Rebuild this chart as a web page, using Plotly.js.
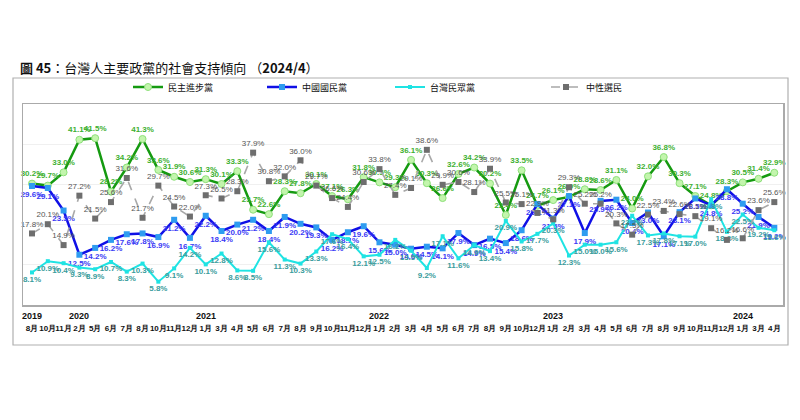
<!DOCTYPE html>
<html>
<head>
<meta charset="utf-8">
<script src="https://cdn.plot.ly/plotly-3.0.1.min.js"></script>
<style>
html,body{margin:0;padding:0;background:#fff;}
#chart{width:800px;height:420px;}
</style>
</head>
<body>
<div id="chart"></div>
<script>
// Month tick labels (48 survey points, 2019/8 – 2024/4)
const months = ["8月","10月","11月","2月","5月","6月","7月","8月","10月","11月","12月",
  "1月","3月","4月","5月","6月","7月","8月","9月","10月","11月","12月",
  "1月","2月","3月","4月","5月","6月","7月","8月","9月","10月","12月",
  "1月","2月","3月","4月","5月","6月","7月","8月","9月","10月","11月","12月",
  "1月","3月","4月"];
// Year labels and the index of the point they sit above
const years = ["2019","2020","2021","2022","2023","2024"];
const yearIdx = [0,3,11,22,33,45];

const dpp = [30.2,29.7,33.0,41.1,41.5,28.2,34.2,41.3,33.6,31.9,30.6,
  31.3,30.1,33.3,23.7,22.6,28.3,27.8,30.1,27.1,26.3,31.8,
  30.5,29.3,36.1,30.3,26.6,32.6,34.2,30.2,22.4,33.5,24.7,
  26.1,26.9,28.8,28.6,31.1,24.0,32.0,36.8,30.3,27.1,24.8,28.3,
  30.5,31.4,32.9];
const kmt = [29.6,29.1,23.5,12.5,14.2,16.2,17.6,17.8,16.9,21.2,16.7,
  22.2,18.4,20.0,21.2,18.4,21.9,20.2,19.3,16.2,18.1,19.6,
  15.6,15.0,14.0,14.5,14.1,17.9,14.9,16.5,15.4,18.6,25.1,
  21.5,27.1,17.9,25.9,26.2,20.4,23.0,17.1,23.1,26.5,24.8,28.8,
  25.2,21.9,19.2];
const tpp = [8.1,10.9,10.4,9.3,8.9,10.7,8.3,10.3,5.8,9.1,14.2,
  10.1,12.8,8.6,8.5,15.6,11.3,10.3,13.3,17.6,16.4,12.1,
  12.5,16.2,13.5,9.2,17.1,11.6,14.9,13.4,20.9,15.8,17.7,
  20.3,12.3,15.0,15.0,15.6,22.2,17.3,17.8,17.1,17.0,26.3,18.2,
  22.5,19.2,18.6];
const neutral = [17.8,20.1,14.9,27.2,21.5,25.6,31.6,21.7,29.7,24.5,22.0,
  27.3,26.5,28.3,37.9,30.8,32.0,36.0,29.7,26.6,24.4,30.6,
  33.8,27.4,29.1,38.6,29.9,30.6,28.1,33.9,25.5,25.1,22.9,
  21.3,29.3,25.2,25.2,20.3,17.5,22.5,23.4,22.6,22.1,19.1,16.2,
  16.6,23.6,25.6];

const names = ["民主進步黨","中國國民黨","台灣民眾黨","中性選民"];

const idx = months.map((m,i)=>i);
const lbl = a => a.map(v => v.toFixed(1)+'%');
const FONT = "Liberation Sans, Arial, sans-serif";
const CJK = "Noto Sans CJK TC, sans-serif";

const traces = [
  {x: idx, y: dpp, name: names[0], legend: 'legend', mode: 'lines+markers+text', text: lbl(dpp),
   textposition: 'top center', cliponaxis: false,
   textfont: {family: FONT, size: 8, color: '#3db030', weight: 'bold'},
   line: {color: '#159a10', width: 2.5},
   marker: {symbol: 'circle', size: 7, color: '#c3f5ad', line: {color: '#8ee07a', width: 1}}},
  {x: idx, y: kmt, name: names[1], legend: 'legend2', mode: 'lines+markers+text', text: lbl(kmt),
   textposition: 'bottom center', cliponaxis: false,
   textfont: {family: FONT, size: 8, color: '#3a3af5', weight: 'bold'},
   line: {color: '#1010e6', width: 2.5},
   marker: {symbol: 'square', size: 6, color: '#2e9cf0', line: {color: '#2e9cf0', width: 0}}},
  {x: idx, y: tpp, name: names[2], legend: 'legend3', mode: 'lines+markers+text', text: lbl(tpp),
   textposition: 'bottom center', cliponaxis: false,
   textfont: {family: FONT, size: 8, color: '#3a9c9c', weight: 'bold'},
   line: {color: '#1fe3e3', width: 2},
   marker: {symbol: 'square', size: 4, color: '#1fe3e3'}},
  {x: idx, y: neutral, name: names[3], legend: 'legend4', mode: 'lines+markers+text', text: lbl(neutral),
   textposition: 'top center', cliponaxis: false,
   textfont: {family: FONT, size: 8, color: '#555555'},
   line: {color: '#a8a8a8', width: 1.6, dash: 'dash'},
   marker: {symbol: 'square', size: 6, color: '#6e6e6e'}}
];

const annotations = years.map((y,k)=>({
  x: yearIdx[k], xref: 'x', y: -0.02, yref: 'paper', yanchor: 'top', xanchor: 'center',
  text: '<b>'+y+'</b>', showarrow: false, font: {family: FONT, size: 9, color: '#111'}
}));

// legend placement: left edge (px) of each legend box
const legendLeft = [128, 262, 390, 546];
const mkLegend = px => ({orientation: 'h', x: (px-23)/760, xanchor: 'left',
  y: (305-87)/201, yanchor: 'middle', itemwidth: 30,
  font: {family: CJK, size: 9, color: '#111'}, bgcolor: 'rgba(0,0,0,0)'});

const layout = {
  width: 800, height: 420,
  margin: {l: 23, r: 17, t: 104, b: 115},
  paper_bgcolor: '#fff', plot_bgcolor: '#fff',
  title: {text: '<b>圖 45</b>：台灣人主要政黨的社會支持傾向 （<b>2024/4</b>）',
    x: 20/800, xanchor: 'left', y: 1 - 68/420, yanchor: 'middle',
    font: {family: CJK, size: 13, color: '#111'}},
  showlegend: true,
  legend: mkLegend(legendLeft[0]),
  legend2: mkLegend(legendLeft[1]),
  legend3: mkLegend(legendLeft[2]),
  legend4: mkLegend(legendLeft[3]),
  xaxis: {range: [-0.57, 47.55], tickmode: 'array', tickvals: idx, ticktext: months,
    tickangle: 0,
    tickfont: {family: FONT, size: 8, color: '#111', weight: 'bold'},
    ticks: '', showgrid: false, zeroline: false, showline: true, mirror: true,
    linecolor: '#aaaaaa', linewidth: 1.5, ticklabelstandoff: 15, fixedrange: true},
  yaxis: {range: [0, 50], dtick: 10, showticklabels: false, ticks: '',
    showgrid: true, gridcolor: '#f0f0f0', gridwidth: 1, zeroline: false,
    showline: true, mirror: true, linecolor: '#aaaaaa', linewidth: 1.5, fixedrange: true},
  annotations: annotations,
  shapes: [
    {type: 'rect', xref: 'paper', yref: 'paper',
     x0: (13-23)/760, x1: (788-23)/760, y0: (305-345)/201, y1: (305-78)/201,
     line: {color: '#b0b0b0', width: 1.2}, fillcolor: 'rgba(0,0,0,0)', layer: 'below'}
  ]
};

Plotly.newPlot('chart', traces, layout, {displayModeBar: false, staticPlot: true});
</script>
</body>
</html>
